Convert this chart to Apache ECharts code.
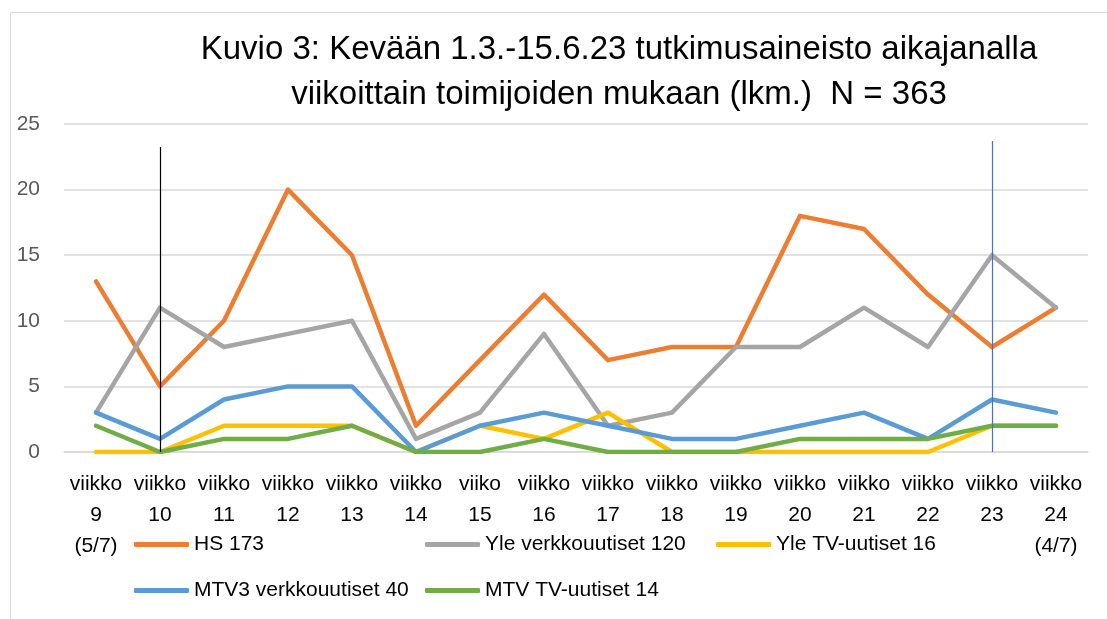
<!DOCTYPE html>
<html>
<head>
<meta charset="utf-8">
<script src="https://cdn.jsdelivr.net/npm/echarts@6/dist/echarts.min.js"></script>
<style>
html,body{margin:0;padding:0;background:#fff;}
#chart{width:1107px;height:619px;}
</style>
</head>
<body>
<div id="chart"></div>
<script>
const categories = ['viikko\n9\n(5/7)','viikko\n10','viikko\n11','viikko\n12','viikko\n13','viikko\n14','viiko\n15','viikko\n16','viikko\n17','viikko\n18','viikko\n19','viikko\n20','viikko\n21','viikko\n22','viikko\n23','viikko\n24\n(4/7)'];
const hs = [13,5,10,20,15,2,7,12,7,8,8,18,17,12,8,11];
const yleVerkko = [3,11,8,9,10,1,3,9,2,3,8,8,11,8,15,11];
const yleTv = [0,0,2,2,2,0,2,1,3,0,0,0,0,0,2,2];
const mtv3Verkko = [3,1,4,5,5,0,2,3,2,1,1,2,3,1,4,3];
const mtvTv = [2,0,1,1,2,0,0,1,0,0,0,1,1,1,2,2];
const seriesNames = ['HS 173','Yle verkkouutiset 120','Yle TV-uutiset 16','MTV3 verkkouutiset 40','MTV TV-uutiset 14'];
const colors = ['#ed7d31','#a5a5a5','#ffc000','#5b9bd5','#70ad47'];
const yTicks = [0,5,10,15,20,25];

const FONT = 'Liberation Sans';
const chart = echarts.init(document.getElementById('chart'));
const legendBase = {
  orient:'horizontal', icon:'roundRect', itemWidth:55, itemHeight:5, itemGap:4, padding:0,
  textStyle:{fontFamily:FONT, fontSize:21, color:'#000'}, selectedMode:false
};
function mkSeries(name, data, color, extra){
  return Object.assign({
    name, type:'line', data, symbol:'none', smooth:false,
    lineStyle:{color, width:4.5, cap:'round', join:'round'},
    itemStyle:{color}, animation:false
  }, extra||{});
}
const option = {
  animation:false,
  title:{
    text:'Kuvio 3: Kevään 1.3.-15.6.23 tutkimusaineisto aikajanalla\nviikoittain toimijoiden mukaan (lkm.)  N = 363',
    left:614, top:22, textAlign:'center',
    textStyle:{fontFamily:FONT, fontSize:33, fontWeight:'normal', color:'#000', lineHeight:45}
  },
  graphic:[{type:'rect', left:8, top:10, shape:{width:1200, height:700}, style:{fill:'none', stroke:'#d9d9d9', lineWidth:1}, silent:true, z:-10}],
  legend:[
    Object.assign({}, legendBase, {data:[seriesNames[0]], left:134, top:534}),
    Object.assign({}, legendBase, {data:[seriesNames[1]], left:425, top:534}),
    Object.assign({}, legendBase, {data:[seriesNames[2]], left:716, top:534}),
    Object.assign({}, legendBase, {data:[seriesNames[3]], left:134, top:580}),
    Object.assign({}, legendBase, {data:[seriesNames[4]], left:425, top:580})
  ],
  grid:{left:64, right:19, top:124, bottom:167, containLabel:false},
  xAxis:{
    type:'category', data:categories, boundaryGap:true,
    axisLine:{show:true, lineStyle:{color:'#d9d9d9', width:1.5}},
    axisTick:{show:false},
    axisLabel:{interval:0, fontFamily:FONT, fontSize:21, color:'#000', lineHeight:31, margin:17}
  },
  yAxis:{
    type:'value', min:yTicks[0], max:yTicks[yTicks.length-1], interval:5,
    axisLine:{show:false}, axisTick:{show:false},
    axisLabel:{fontFamily:FONT, fontSize:21, color:'#595959', margin:24},
    splitLine:{lineStyle:{color:'#d9d9d9', width:1.5}}
  },
  series:[
    mkSeries(seriesNames[0], hs, colors[0], {
      markLine:{silent:true, symbol:'none', label:{show:false}, animation:false,
        data:[
          [{coord:[1,23.25], lineStyle:{color:'#000', width:1.2, type:'solid'}},{coord:[1,0]}],
          [{coord:[14,23.7], lineStyle:{color:'#4472c4', width:1.2, type:'solid'}},{coord:[14,0]}]
        ]}
    }),
    mkSeries(seriesNames[1], yleVerkko, colors[1]),
    mkSeries(seriesNames[2], yleTv, colors[2]),
    mkSeries(seriesNames[3], mtv3Verkko, colors[3]),
    mkSeries(seriesNames[4], mtvTv, colors[4])
  ]
};
chart.setOption(option);
</script>
</body>
</html>
